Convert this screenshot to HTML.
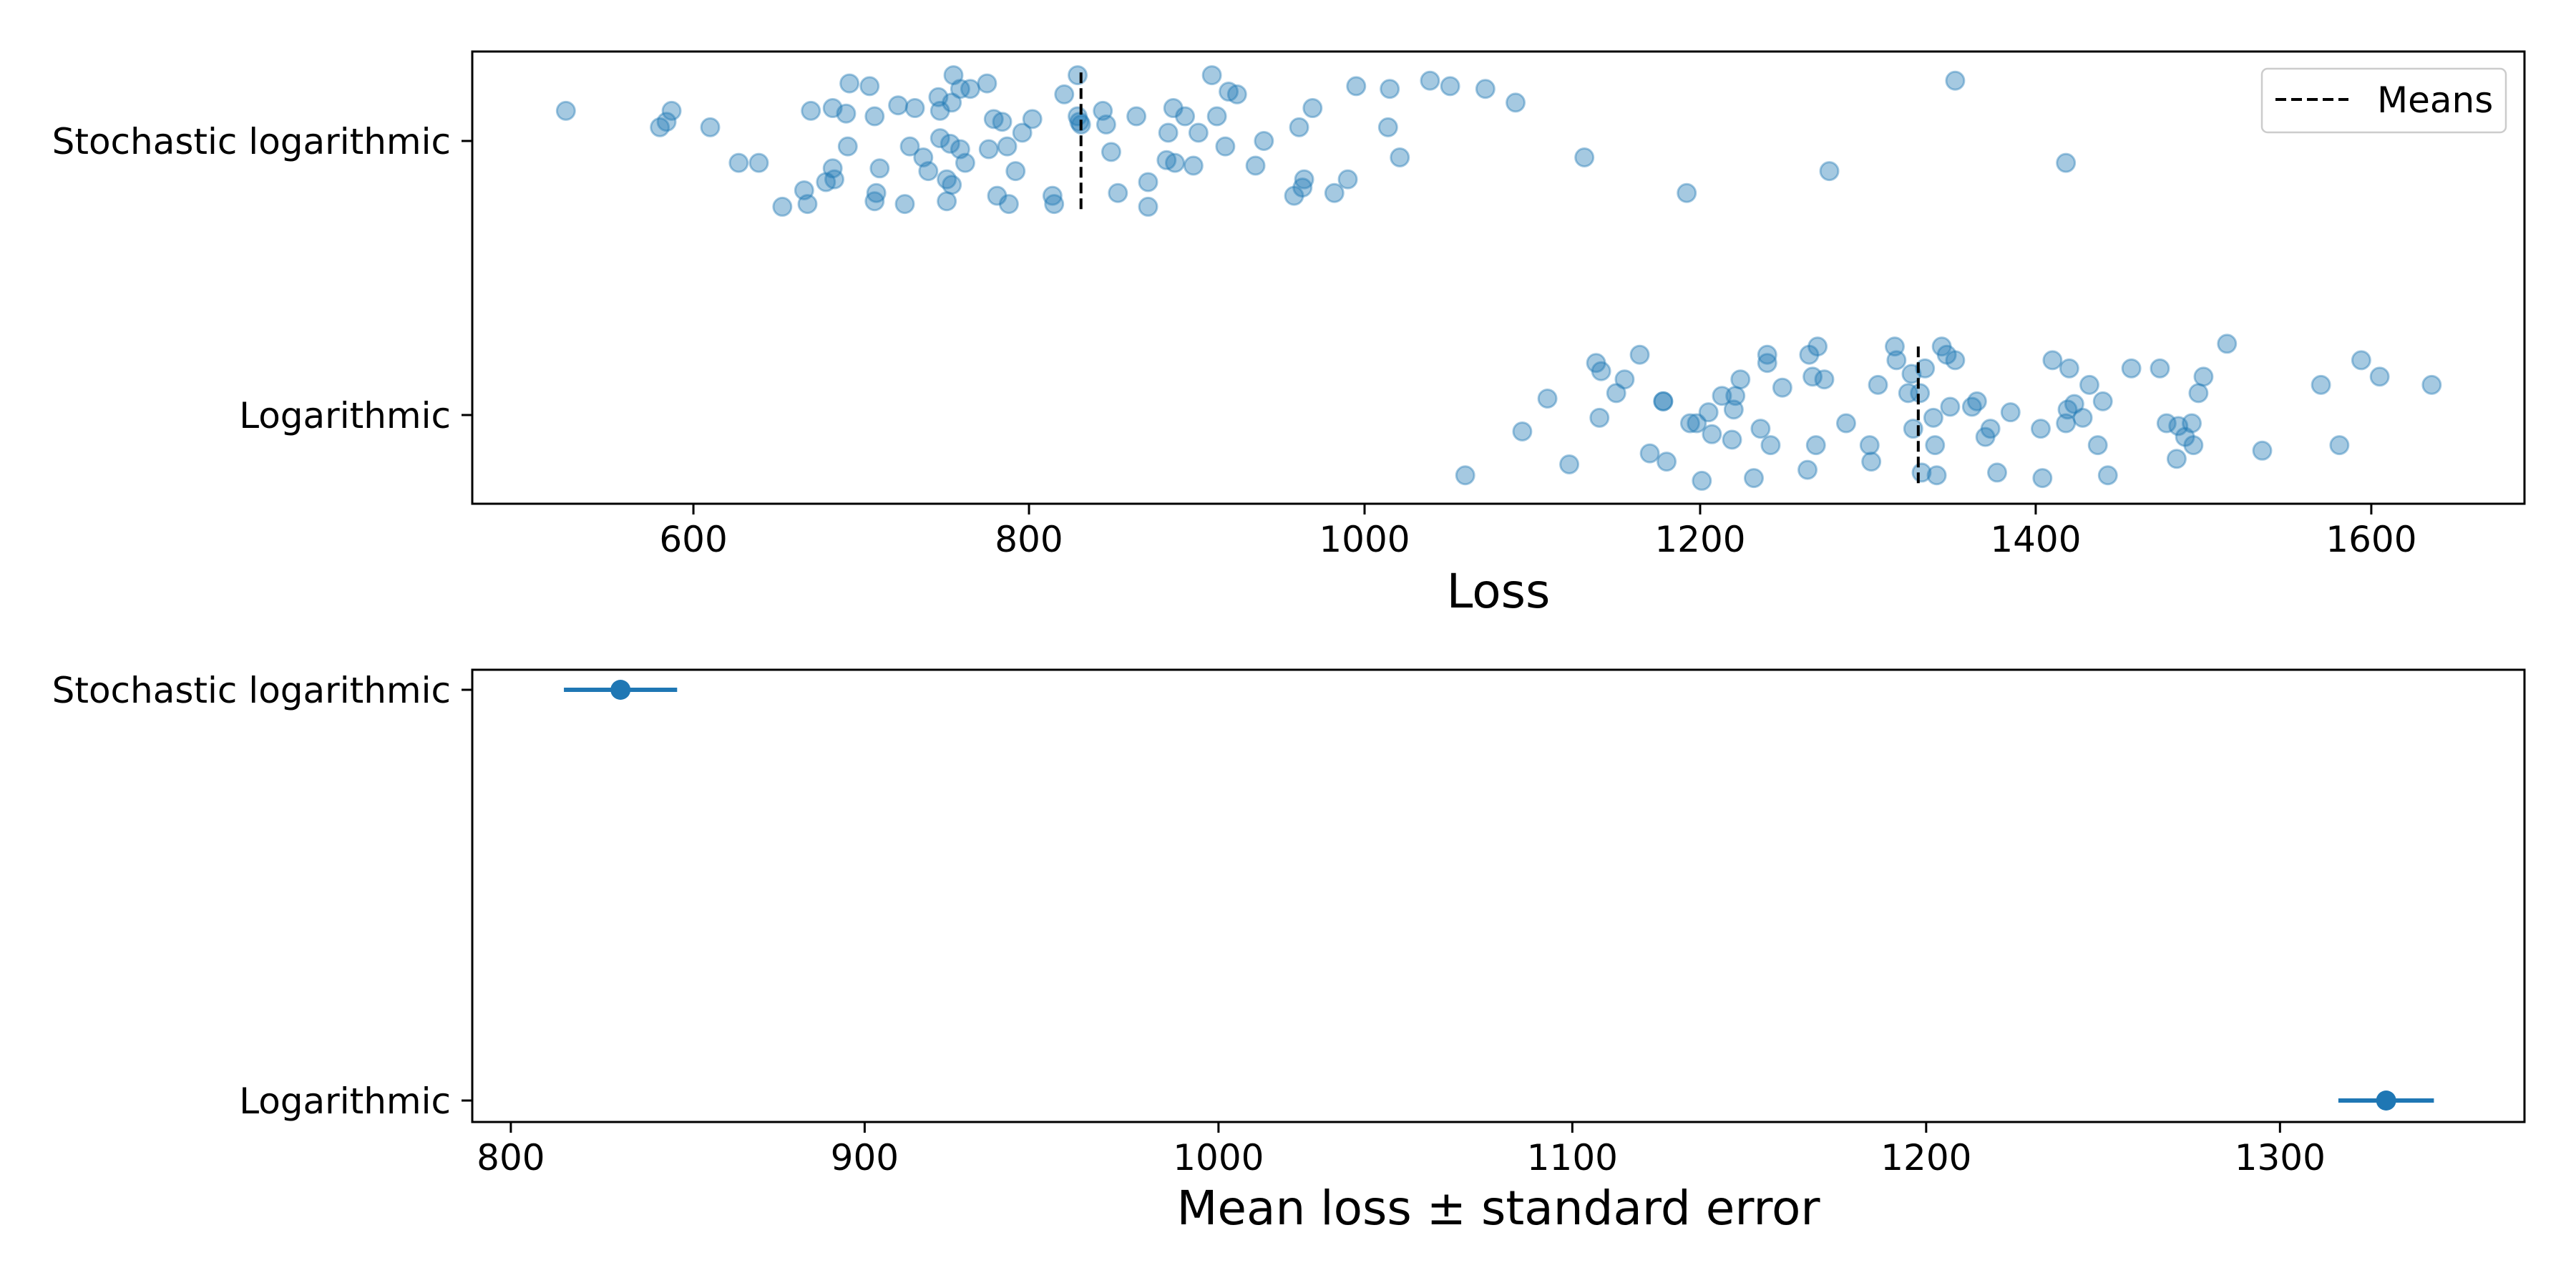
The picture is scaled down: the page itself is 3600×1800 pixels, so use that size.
<!DOCTYPE html>
<html><head><meta charset="utf-8"><style>
html,body{margin:0;padding:0;background:#fff}
svg{display:block}
text{font-family:"DejaVu Sans","Liberation Sans",sans-serif;fill:#000}
</style></head><body>
<svg id="fig" width="3600" height="1800" viewBox="0 0 3600 1800" xmlns="http://www.w3.org/2000/svg">
<rect width="3600" height="1800" fill="#fff"/>
<g id="topPanel"></g>
<g id="botPanel"></g>
</svg>
<script>
const categories = ["Stochastic logarithmic", "Logarithmic"];
const stochLoss = [524,587,584,580,610,627,639,653,666,668,670,679,683,684,683,691,692,693,705,708,709,708,711,722,726,729,732,737,740,746,747,747,751,751,753,754,754,755,759,759,762,765,775,776,779,781,784,787,788,792,
796,802,814,815,821,829,829,830,831,844,846,849,853,864,871,871,882,883,886,887,893,898,901,909,912,917,919,924,935,940,958,961,963,964,969,982,990,995,1014,1015,1021,1039,1051,1072,1090,1131,1192,1277,1352,1418];
const stochJitter = [-0.11,-0.11,-0.07,-0.05,-0.05,0.08,0.08,0.24,0.18,0.23,-0.11,0.15,0.10,0.14,-0.12,-0.10,0.02,-0.21,-0.20,-0.09,0.19,0.22,0.10,-0.13,0.23,0.02,-0.12,0.06,0.11,-0.16,-0.11,-0.01,0.14,0.22,0.01,-0.14,0.16,-0.24,0.03,-0.19,0.08,-0.19,-0.21,0.03,-0.08,0.20,-0.07,0.02,0.23,0.11,
-0.03,-0.08,0.20,0.23,-0.17,-0.24,-0.09,-0.07,-0.06,-0.11,-0.06,0.04,0.19,-0.09,0.15,0.24,0.07,-0.03,-0.12,0.08,-0.09,0.09,-0.03,-0.24,-0.09,0.02,-0.18,-0.17,0.09,0.00,0.20,-0.05,0.17,0.14,-0.12,0.19,0.14,-0.20,-0.05,-0.19,0.06,-0.22,-0.20,-0.19,-0.14,0.06,0.19,0.11,-0.22,0.08];
const logLoss = [1060,1094,1109,1122,1138,1141,1140,1150,1155,1164,1170,1178,1178,1180,1194,1198,1201,1205,1207,1213,1219,1220,1221,1224,1232,1236,1240,1240,1242,1249,1264,1265,1267,1269,1270,1274,1287,1301,1302,1306,1316,1317,1324,1326,1327,1331,1332,1334,1339,1340,
1341,1344,1347,1349,1352,1362,1365,1370,1373,1377,1385,1403,1404,1410,1418,1419,1420,1423,1428,1432,1437,1440,1443,1457,1474,1478,1484,1485,1489,1493,1494,1497,1500,1514,1535,1570,1581,1594,1605,1636];
const logJitter = [0.22,0.06,-0.06,0.18,-0.19,-0.16,0.01,-0.08,-0.13,-0.22,0.14,-0.05,-0.05,0.17,0.03,0.03,0.24,-0.01,0.07,-0.07,0.09,-0.02,-0.07,-0.13,0.23,0.05,-0.19,-0.22,0.11,-0.10,0.20,-0.22,-0.14,0.11,-0.25,-0.13,0.03,0.11,0.17,-0.11,-0.25,-0.20,-0.08,-0.15,0.05,-0.08,0.21,-0.17,0.01,0.11,
0.22,-0.25,-0.22,-0.03,-0.20,-0.03,-0.05,0.08,0.05,0.21,-0.01,0.05,0.23,-0.20,0.03,-0.02,-0.17,-0.04,0.01,-0.11,0.11,-0.05,0.22,-0.17,-0.17,0.03,0.16,0.04,0.08,0.03,0.11,-0.08,-0.14,-0.26,0.13,-0.11,0.11,-0.20,-0.14,-0.11];
const meanLoss = [831, 1330];
const stdErr = [16, 13.5];
const topTicks = [600, 800, 1000, 1200, 1400, 1600];
const botTicks = [800, 900, 1000, 1100, 1200, 1300];

const NS = "http://www.w3.org/2000/svg";
const C = "#1f77b4";
function mk(parent, tag, attrs, txt){const e=document.createElementNS(NS,tag);for(const k in attrs)e.setAttribute(k,attrs[k]);if(txt!==undefined)e.textContent=txt;parent.appendChild(e);return e;}

const T = {x0:660,x1:3528,y0:72,y1:704,xmin:468.2,xmax:1691.3,c0:197,c1:580};
const tx = v => T.x0 + (v - T.xmin) / (T.xmax - T.xmin) * (T.x1 - T.x0);
const ty = (ci, j) => [T.c0, T.c1][ci] + j * (T.c1 - T.c0);
const B = {x0:660,x1:3528,y0:936,y1:1568,xmin:789.1,xmax:1369.1,c0:964,c1:1538};
const bx = v => B.x0 + (v - B.xmin) / (B.xmax - B.xmin) * (B.x1 - B.x0);
const by = ci => [B.c0, B.c1][ci];

const topG = document.getElementById('topPanel');
const botG = document.getElementById('botPanel');

function drawAxes(g, A, ticks, xf, yf, label, labelY){
  ticks.forEach(t=>{
    const x = xf(t);
    const tk = mk(g,'line',{x1:x,x2:x,y1:A.y1,y2:A.y1+15,stroke:'#000','stroke-width':3});
    
    
    const tl = mk(g,'text',{x:x,y:A.y1+67,'text-anchor':'middle','font-size':50},String(t));
    
    
  });
  categories.forEach((c,i)=>{
    const y = yf(i);
    const tk = mk(g,'line',{x1:A.x0-15,x2:A.x0,y1:y,y2:y,stroke:'#000','stroke-width':3});
    
    
    const tl = mk(g,'text',{x:A.x0-30,y:y+18,'text-anchor':'end','font-size':50},c);
    
    
  });
  const lab = mk(g,'text',{x:(A.x0+A.x1)/2,y:labelY,'text-anchor':'middle','font-size':66},label);
  
  
}

function scatter(vals, jit, ci, name){
  vals.forEach((v,i)=>{
    const p = mk(topG,'circle',{cx:tx(v),cy:ty(ci,jit[i]),r:12.5,fill:C,'fill-opacity':0.4,stroke:C,'stroke-opacity':0.4,'stroke-width':3});
    
    
  });
}
scatter(stochLoss, stochJitter, 0, 'stochastic-point');
scatter(logLoss, logJitter, 1, 'logarithmic-point');
meanLoss.forEach((m,i)=>{
  const l = mk(topG,'line',{x1:tx(m),x2:tx(m),y1:ty(i,-0.25),y2:ty(i,0.25),stroke:'#000','stroke-width':4,'stroke-dasharray':'15 7'});
  
  
});
const f1 = mk(topG,'rect',{x:T.x0,y:T.y0,width:T.x1-T.x0,height:T.y1-T.y0,fill:'none',stroke:'#000','stroke-width':3});


drawAxes(topG, T, topTicks, tx, i=>ty(i,0), 'Loss', 849);

const lg = mk(topG,'g',{});


mk(lg,'rect',{x:3161,y:96,width:341,height:89,rx:8,fill:'#fff','fill-opacity':0.8,stroke:'#ccc','stroke-width':2.5});
const ll = mk(lg,'line',{x1:3180,x2:3282,y1:139,y2:139,stroke:'#000','stroke-width':4,'stroke-dasharray':'15 7'});


const lt = mk(lg,'text',{x:3322,y:157,'font-size':50},'Means');



meanLoss.forEach((m,i)=>{
  const y = by(i);
  const e = mk(botG,'line',{x1:bx(m-stdErr[i]),x2:bx(m+stdErr[i]),y1:y,y2:y,stroke:C,'stroke-width':6});
  
  
  const d = mk(botG,'circle',{cx:bx(m),cy:y,r:14,fill:C});
  
  
});
const f2 = mk(botG,'rect',{x:B.x0,y:B.y0,width:B.x1-B.x0,height:B.y1-B.y0,fill:'none',stroke:'#000','stroke-width':3});


drawAxes(botG, B, botTicks, bx, by, 'Mean loss \u00b1 standard error', 1711);
</script>
</body></html>
